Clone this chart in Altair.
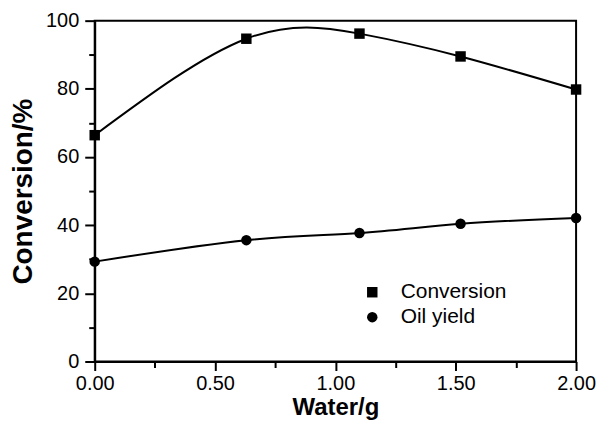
import altair as alt
import pandas as pd

water = [0.0, 0.63, 1.1, 1.52, 2.0]
conversion = [66.4, 94.7, 96.2, 89.5, 79.8]
oil_yield = [29.3, 35.6, 37.7, 40.4, 42.1]
series_names = ["Conversion", "Oil yield"]

df = pd.DataFrame({
    "water": water + water,
    "value": conversion + oil_yield,
    "series": [series_names[0]] * len(water) + [series_names[1]] * len(water),
})

x_ticks = [0.0, 0.25, 0.5, 0.75, 1.0, 1.25, 1.5, 1.75, 2.0]
y_ticks = [0, 10, 20, 30, 40, 50, 60, 70, 80, 90, 100]

FONT = "Liberation Sans"

x_enc = alt.X(
    "water:Q",
    scale=alt.Scale(domain=[0, 2], nice=False, zero=False),
    axis=alt.Axis(
        title="Water/g",
        values=x_ticks,
        format=".2f",
        labelExpr="(round(datum.value*100) % 50 === 0) ? datum.label : ''",
        tickSize={"condition": {"test": "round(datum.value*100) % 50 === 0", "value": 9}, "value": 6},
        grid=False,
        labelFlush=False,
        labelOverlap=False,
        labelFontSize=20,
        titleFontSize=24,
        titleFontWeight="bold",
        labelPadding=3,
        titlePadding=2,
    ),
)
y_enc = alt.Y(
    "value:Q",
    scale=alt.Scale(domain=[0, 100], nice=False),
    axis=alt.Axis(
        title="Conversion/%",
        values=y_ticks,
        labelExpr="(datum.value % 20 === 0) ? datum.label : ''",
        tickSize={"condition": {"test": "datum.value % 20 === 0", "value": 10}, "value": 6},
        grid=False,
        labelFlush=False,
        labelOverlap=False,
        labelFontSize=20,
        titleFontSize=28,
        titleFontWeight="bold",
        labelPadding=6,
        titlePadding=8,
    ),
)

lines = alt.Chart(df).mark_line(
    interpolate="natural", color="black", strokeWidth=2
).encode(x=x_enc, y=y_enc, detail="series:N")

points = alt.Chart(df).mark_point(
    filled=True, color="black", opacity=1
).encode(
    x=x_enc,
    y=y_enc,
    shape=alt.Shape(
        "series:N",
        scale=alt.Scale(domain=series_names, range=["square", "circle"]),
        legend=alt.Legend(
            title=None,
            orient="none",
            legendX=268,
            legendY=262,
            labelFontSize=21,
            symbolSize=110,
            symbolFillColor="black",
            symbolStrokeColor="black",
            labelOffset=18,
            rowPadding=3,
        ),
    ),
    size=alt.value(110),
)

chart = alt.layer(lines, points).properties(
    width=483,
    height=342,
    autosize=alt.AutoSizeParams(type="none"),
    padding={"left": 87, "top": 12, "right": 25, "bottom": 60},
).configure_view(
    stroke="black", strokeWidth=2
).configure_axis(
    domainColor="black",
    domainWidth=2,
    tickColor="black",
    tickWidth=2,
    labelColor="black",
    titleColor="black",
    labelFont=FONT,
    titleFont=FONT,
).configure_legend(
    labelFont=FONT, labelColor="black"
)

chart.save("out.html", embed_options={"renderer": "svg", "actions": False})
